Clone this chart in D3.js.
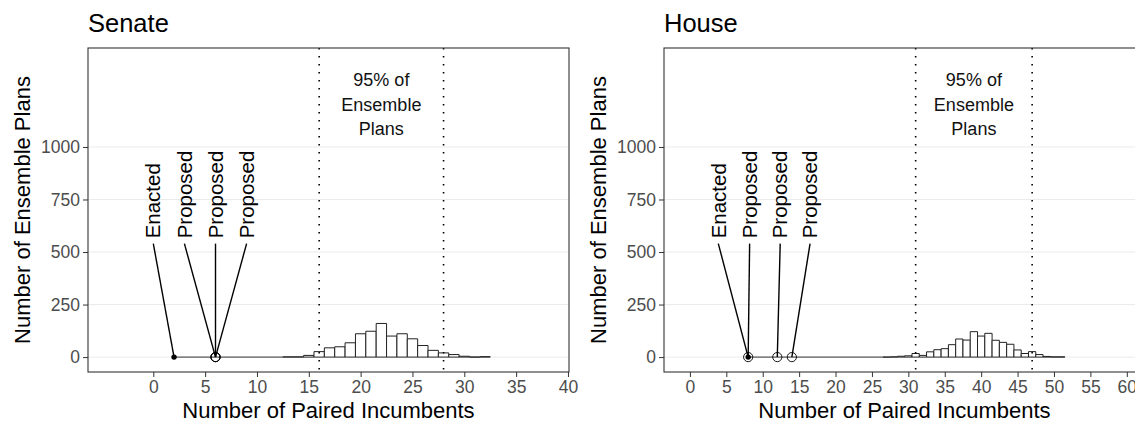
<!DOCTYPE html>
<html lang="en">
<head>
  <meta charset="UTF-8" />
  <title>Paired Incumbents: Senate and House</title>
  <script src="https://d3js.org/d3.v7.min.js"></script>
  <style>
    body {
      margin: 0;
      background: #fff;
      font-family: "Liberation Sans", Arial, sans-serif;
    }
    svg { display: block; }
    .grid line { stroke: #ebebeb; stroke-width: 1; }
    .tick text { fill: #4d4d4d; font-size: 17.5px; }
    .tick line { stroke: #333; }
  </style>
</head>
<body>
<svg width="1135" height="424"></svg>

<script>
  // Senate ensemble histogram (bins centred on integers)
  const senateBins = [13, 14, 15, 16, 17, 18, 19, 20, 21, 22, 23, 24, 25, 26, 27, 28, 29, 30, 31, 32];
  const senateCounts = [1, 1, 8, 26, 44, 49, 68, 111, 123, 160, 100, 111, 87, 55, 32, 20, 12, 4, 0, 2];
  const senateInterval = [16, 28];
  const senatePlanTypes = ["Enacted", "Proposed", "Proposed", "Proposed"];
  const senatePlanValues = [2, 6, 6, 6];
  const senateLabelX = [0, 3, 6, 9];

  // House ensemble histogram
  const houseBins = [27, 28, 29, 30, 31, 32, 33, 34, 35, 36, 37, 38, 39, 40, 41, 42, 43, 44, 45, 46, 47, 48, 49, 50, 51];
  const houseCounts = [0, 1, 4, 6, 17, 8, 25, 35, 40, 59, 86, 81, 121, 100, 113, 80, 70, 61, 34, 17, 26, 12, 3, 1, 1];
  const houseInterval = [31, 47];
  const housePlanTypes = ["Enacted", "Proposed", "Proposed", "Proposed"];
  const housePlanValues = [8, 8, 12, 14];
  const houseLabelX = [3.9, 8.2, 12.4, 16.5];

  const senateTicks = d3.range(0, 41, 5);
  const houseTicks = d3.range(0, 61, 5);
  const yTicks = [0, 250, 500, 750, 1000];
  const labelCount = 565;   // where the rotated labels start
  const leaderCount = 540;  // where leader lines end under labels
  const bandLabel = ["95% of", "Ensemble", "Plans"];

  const svg = d3.select("svg");
  const panelTop = 48, panelBottom = 372;

  function drawPanel(opt) {
    const g = svg.append("g");
    const x = d3.scaleLinear().domain(opt.domain).range([opt.left, opt.right]);
    const y = d3.scaleLinear().domain([-71, 1471]).range([panelBottom, panelTop]);

    // clip to panel
    const clipId = "clip-" + opt.title;
    svg.append("clipPath").attr("id", clipId)
      .append("rect").attr("x", opt.left).attr("y", panelTop)
      .attr("width", opt.right - opt.left).attr("height", panelBottom - panelTop);
    const p = g.append("g").attr("clip-path", `url(#${clipId})`);

    // grid
    p.append("g").attr("class", "grid").selectAll("line")
      .data(yTicks).join("line")
      .attr("x1", opt.left).attr("x2", opt.right)
      .attr("y1", d => y(d)).attr("y2", d => y(d));

    // baseline from the plans to the histogram
    p.append("line")
      .attr("x1", x(d3.min(opt.planValues))).attr("x2", x(opt.bins[0] - 0.5))
      .attr("y1", y(0)).attr("y2", y(0))
      .attr("stroke", "#333").attr("stroke-width", 1);

    // histogram (paths so empty bins still show as a flat line)
    p.append("g").selectAll("path")
      .data(opt.bins.map((b, i) => ({ b, c: opt.counts[i] })))
      .join("path")
      .attr("d", d => {
        const x0 = x(d.b - 0.5), x1 = x(d.b + 0.5), y0 = y(0), y1 = y(d.c);
        return `M${x0},${y0}V${y1}H${x1}V${y0}Z`;
      })
      .attr("fill", "#fff")
      .attr("stroke", "#222")
      .attr("stroke-width", 1);

    // 95% interval lines
    p.append("g").selectAll("line")
      .data(opt.interval).join("line")
      .attr("x1", d => x(d)).attr("x2", d => x(d))
      .attr("y1", panelTop).attr("y2", panelBottom)
      .attr("stroke", "#000").attr("stroke-width", 1.6)
      .attr("stroke-dasharray", "1.6,6.4");

    const mid = x(d3.mean(opt.interval));
    p.append("g").selectAll("text")
      .data(bandLabel).join("text")
      .attr("x", mid).attr("y", (d, i) => 86 + i * 24.5)
      .attr("text-anchor", "middle")
      .attr("font-size", 18)
      .attr("fill", "#111")
      .text(d => d);

    // leader lines
    p.append("g").selectAll("line")
      .data(opt.planValues).join("line")
      .attr("x1", (d, i) => x(opt.labelX[i])).attr("y1", y(leaderCount))
      .attr("x2", d => x(d)).attr("y2", y(0))
      .attr("stroke", "#000").attr("stroke-width", 1.4);

    // labels
    p.append("g").selectAll("text")
      .data(opt.planTypes).join("text")
      .attr("transform", (d, i) => `translate(${x(opt.labelX[i])},${y(labelCount)}) rotate(-90)`)
      .attr("dy", "0.35em")
      .attr("font-size", 20.5)
      .attr("fill", "#000")
      .text(d => d);

    // points
    const pts = opt.planValues.map((v, i) => ({ v, t: opt.planTypes[i] }));
    p.append("g").selectAll("circle")
      .data(pts.filter(d => d.t === "Proposed")).join("circle")
      .attr("cx", d => x(d.v)).attr("cy", y(0)).attr("r", 4.6)
      .attr("fill", "none").attr("stroke", "#000").attr("stroke-width", 0.9);
    p.append("g").selectAll("circle")
      .data(pts.filter(d => d.t === "Enacted")).join("circle")
      .attr("cx", d => x(d.v)).attr("cy", y(0)).attr("r", 2.7)
      .attr("fill", "#000");

    // border
    g.append("rect")
      .attr("x", opt.left).attr("y", panelTop)
      .attr("width", opt.right - opt.left).attr("height", panelBottom - panelTop)
      .attr("fill", "none").attr("stroke", "#333").attr("stroke-width", 1.1);

    // axes
    const xAxis = g.append("g").attr("transform", `translate(0,${panelBottom})`)
      .call(d3.axisBottom(x).tickValues(opt.ticks).tickSize(5).tickPadding(4));
    xAxis.select(".domain").remove();
    xAxis.selectAll("text").attr("font-family", null).attr("font-size", null);

    const yAxis = g.append("g").attr("transform", `translate(${opt.left},0)`)
      .call(d3.axisLeft(y).tickValues(yTicks).tickFormat(d3.format("d")).tickSize(5).tickPadding(3));
    yAxis.select(".domain").remove();
    yAxis.selectAll("text").attr("font-family", null).attr("font-size", null);

    // titles
    g.append("text")
      .attr("x", opt.left).attr("y", 32)
      .attr("font-size", 25.5).attr("fill", "#000")
      .text(opt.title);
    g.append("text")
      .attr("x", (opt.left + opt.right) / 2).attr("y", 418)
      .attr("text-anchor", "middle")
      .attr("font-size", 22).attr("fill", "#000")
      .text("Number of Paired Incumbents");
    g.append("text")
      .attr("transform", `translate(${opt.left - 58},${(panelTop + panelBottom) / 2}) rotate(-90)`)
      .attr("text-anchor", "middle")
      .attr("font-size", 22).attr("fill", "#000")
      .text("Number of Ensemble Plans");
  }

  drawPanel({
    title: "Senate", left: 88, right: 569, domain: [-6.3, 40.1],
    bins: senateBins, counts: senateCounts, interval: senateInterval,
    planTypes: senatePlanTypes, planValues: senatePlanValues, labelX: senateLabelX,
    ticks: senateTicks
  });

  drawPanel({
    title: "House", left: 664, right: 1145, domain: [-3.56, 62.5],
    bins: houseBins, counts: houseCounts, interval: houseInterval,
    planTypes: housePlanTypes, planValues: housePlanValues, labelX: houseLabelX,
    ticks: houseTicks
  });
</script>
</body>
</html>
